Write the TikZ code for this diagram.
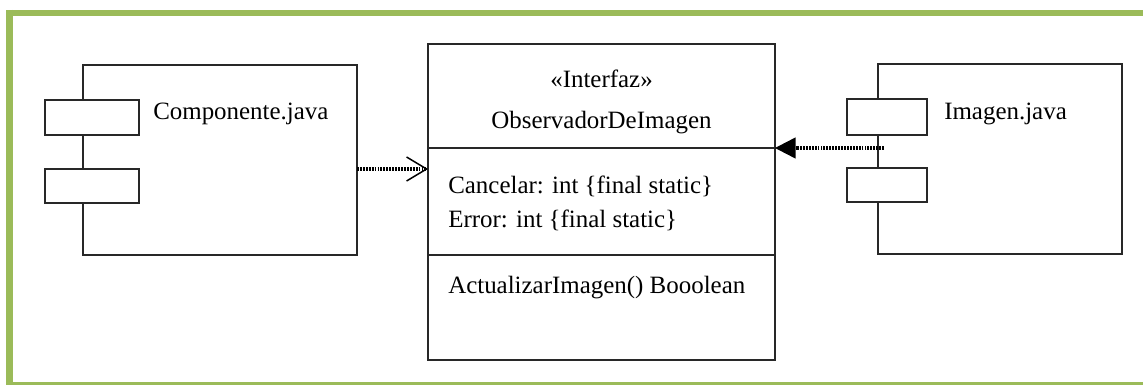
\documentclass[tikz,border=0pt]{standalone}
\usepackage{fontspec}
\setmainfont{Liberation Serif}
\usetikzlibrary{arrows.meta}
\definecolor{frame}{RGB}{155,187,89}
\definecolor{ink}{RGB}{40,40,40}
\tikzset{
  box/.style={draw=ink, line width=1.1pt, fill=white, inner sep=0pt, outer sep=0pt, anchor=north west},
  lbl/.style={inner sep=0pt, anchor=base west, text=black, font=\fontsize{18.7}{22}\selectfont},
  clbl/.style={lbl, anchor=base},
  divider/.style={draw=ink, line width=1.1pt},
  depline/.style={draw=black, line width=2.4pt, dash pattern=on 1.4pt off 0.8pt},
  openhead/.style={-{Straight Barb[length=15pt, width=18pt, line width=1.1pt, line cap=butt, sep=0pt]}},
  filledhead/.style={-{Triangle[length=15.5pt, width=16pt, line width=0pt]}}
}
\begin{document}
\begin{tikzpicture}[x=0.75pt, y=-0.75pt]
\useasboundingbox (0,0) rectangle (1143,385);
% green frame
\fill[white] (0,0) rectangle (1143,385);
\draw[frame, line width=4.5pt] (6,13) -- (1143,13);
\draw[frame, line width=5.2pt] (9.5,10) -- (9.5,385);
\draw[frame, line width=1.6pt] (6,383.5) -- (1143,383.5);

% left component
\node[box, minimum width=274*0.75pt, minimum height=190*0.75pt] (lc) at (83,65) {};
\node[box, minimum width=94*0.75pt, minimum height=35*0.75pt] (lc1) at (45,100) {};
\node[box, minimum width=94*0.75pt, minimum height=34*0.75pt] (lc2) at (45,169) {};
\node[lbl] (lct) at (153,119) {Componente.java};

% right component
\node[box, minimum width=244*0.75pt, minimum height=190*0.75pt] (rc) at (878,64) {};
\node[box, minimum width=80*0.75pt, minimum height=36*0.75pt] (rc1) at (847,99) {};
\node[box, minimum width=80*0.75pt, minimum height=34*0.75pt] (rc2) at (847,168) {};
\node[lbl] (rct) at (944,120) {Imagen.java};

% class box
\node[box, minimum width=347*0.75pt, minimum height=316*0.75pt] (cls) at (428,44) {};
\coordinate (d1) at (600,148);
\coordinate (d2) at (600,255);
\draw[divider] (cls.west |- d1) -- (cls.east |- d1);
\draw[divider] (cls.west |- d2) -- (cls.east |- d2);
\node[clbl] (st) at (601.5,88) {«Interfaz»};
\node[clbl] (nm) at (601.5,128) {ObservadorDeImagen};
\node[lbl] (a1t) at (448,193) {Cancelar: int \{final static\}};
\node[lbl] (a2t) at (448,227) {Error: int \{final static\}};
\node[lbl] (m1t) at (448,293) {ActualizarImagen() Booolean};

% connectors
\coordinate (ya) at (400,169);
\draw[depline, openhead] (lc.east |- ya) -- (cls.west |- ya);
\draw[depline, filledhead] ([xshift=4.5pt]rc.west |- d1) -- (cls.east |- d1);
\end{tikzpicture}
\end{document}
